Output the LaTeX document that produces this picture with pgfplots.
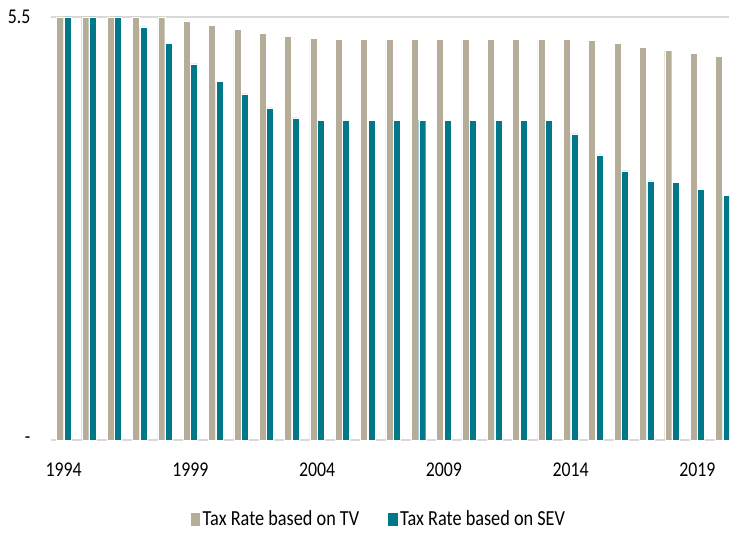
\documentclass[border=0pt]{standalone}
\usepackage{pgfplots}
\pgfplotsset{compat=1.18}
\usepackage{pgfplotstable}
\usepackage{fontspec}
\setmainfont{Carlito}[FakeStretch=0.85]
\definecolor{tvcol}{RGB}{181,173,152}
\definecolor{sevcol}{RGB}{0,120,138}
\definecolor{gridcol}{RGB}{217,217,217}
\pgfplotstableread{
idx tv sev
0 5.5 5.5
1 5.5 5.5
2 5.5 5.5
3 5.5 5.37
4 5.5 5.16
5 5.45 4.89
6 5.39 4.66
7 5.34 4.50
8 5.29 4.32
9 5.25 4.19
10 5.22 4.16
11 5.21 4.16
12 5.21 4.16
13 5.21 4.16
14 5.21 4.16
15 5.21 4.16
16 5.21 4.16
17 5.21 4.16
18 5.21 4.16
19 5.21 4.16
20 5.21 3.98
21 5.20 3.71
22 5.16 3.50
23 5.11 3.37
24 5.07 3.35
25 5.03 3.26
26 4.99 3.18
}\datatable
\begin{document}
\begin{tikzpicture}
\begin{axis}[
  name=ax,
  scale only axis,
  width=679pt, height=424pt,
  ybar=0.5pt, bar width=7pt,
  xmin=-0.5, xmax=26.25,
  ymin=0, ymax=5.5,
  /pgf/number format/assume math mode=true,
  xtick={0,5,10,15,20,25},
  xticklabels={\mbox{1994},\mbox{1999},\mbox{2004},\mbox{2009},\mbox{2014},\mbox{2019}},
  ytick={0,5.5},
  yticklabels={\mbox{-},\mbox{5.5}},
  axis x line*=bottom,
  axis y line*=left,
  y axis line style={draw=none},
  x axis line style={gridcol, line width=2pt, -},
  major tick length=0pt,
  tick style={draw=none},
  ymajorgrids,
  grid style={gridcol, line width=1.3pt},
  xticklabel style={font=\fontsize{21}{24}\selectfont, yshift=-19pt},
  yticklabel style={font=\fontsize{21}{24}\selectfont, xshift=-17pt},
  legend columns=2,
  legend style={draw=none, at={(0.483,-0.186)}, anchor=center,
    font=\fontsize{21.5}{25}\selectfont,
    /tikz/every even column/.append style={column sep=26pt}},
  legend image code/.code={\fill[#1] (0pt,-7pt) rectangle (10.5pt,7pt);},
]
\addplot[fill=tvcol, draw=white, line width=0.4pt] table[x=idx,y=tv]{\datatable};
\addlegendentry{Tax Rate based on TV}
\addplot[fill=sevcol, draw=white, line width=0.4pt] table[x=idx,y=sev]{\datatable};
\addlegendentry{Tax Rate based on SEV}
\end{axis}
\path (ax.south west) ++(-51pt,-92pt) coordinate (bl);
\path (ax.north east) ++(0pt,17pt) coordinate (tr);
\useasboundingbox (bl) rectangle (tr);
\end{tikzpicture}
\end{document}
